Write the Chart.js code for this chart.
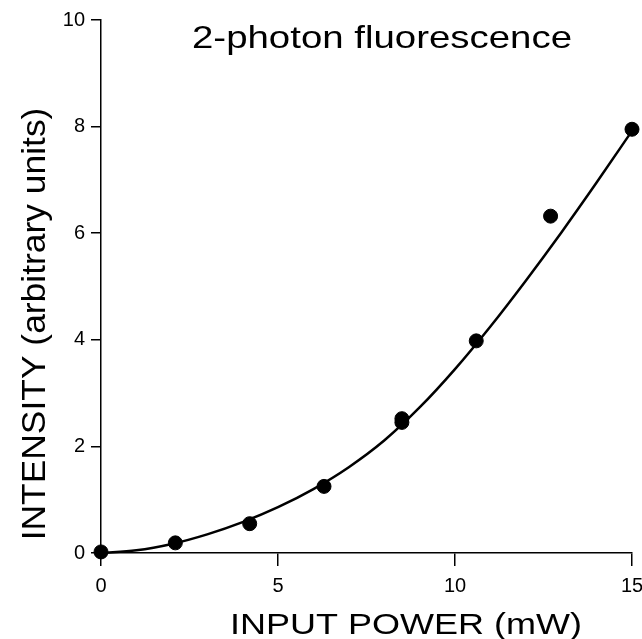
<!DOCTYPE html>
<html>
<head>
<meta charset="utf-8">
<script src="https://cdn.jsdelivr.net/npm/chart.js@4.4.0/dist/chart.umd.min.js"></script>
<style>
html, body { margin: 0; padding: 0; background: #fff; }
#wrap { width: 642px; height: 639px; }
</style>
</head>
<body>
<div id="wrap"><canvas id="myChart"></canvas></div>
<script>
// measured points (input power in mW, intensity in arbitrary units)
const powerMeasured = [0, 2.1, 4.2, 6.3, 8.5, 8.5, 10.6, 12.7, 15];
const intensityMeasured = [0.02, 0.19, 0.55, 1.25, 2.45, 2.52, 3.98, 6.32, 7.95];

// fitted curve
const powerFit = [0, 1, 2, 3, 4, 5, 6, 7, 8, 9, 10, 11, 12, 13, 14, 15];
const intensityFit = [0, 0.05, 0.17, 0.35, 0.58, 0.86, 1.2, 1.61, 2.11, 2.73, 3.45, 4.25, 5.11, 6.01, 6.95, 7.92];

const xTicks = [0, 5, 10, 15];
const yTicks = [0, 2, 4, 6, 8, 10];

const FONT = '"Liberation Sans", Arial, Helvetica, sans-serif';

const titles = {
    id: 'titles',
    afterDraw(chart) {
        const c = chart.ctx;
        const a = chart.chartArea;
        c.save();
        c.fillStyle = '#000';
        c.textAlign = 'center';
        c.textBaseline = 'alphabetic';

        c.font = '32px ' + FONT;
        c.save();
        c.translate(a.left + 281, a.top + 28);
        c.scale(1.2, 1);
        c.fillText('2-photon fluorescence', 0, 0);
        c.restore();

        c.font = '30px ' + FONT;
        c.save();
        c.translate(a.left + 305, 634);
        c.scale(1.2, 1);
        c.fillText('INPUT POWER (mW)', 0, 0);
        c.restore();

        c.save();
        c.translate(45, a.top + 304);
        c.rotate(-Math.PI / 2);
        c.scale(1.18, 1.1);
        c.fillText('INTENSITY (arbitrary units)', 0, 0);
        c.restore();

        c.restore();
    }
};

const ctx = document.getElementById('myChart').getContext('2d');

const data = {
    datasets: [{
        label: 'fit',
        data: powerFit.map((x, i) => ({ x: x, y: intensityFit[i] })),
        showLine: true,
        borderColor: '#000',
        borderWidth: 2.5,
        pointRadius: 0,
        cubicInterpolationMode: 'monotone',
        clip: false
    }, {
        label: 'measured',
        data: powerMeasured.map((x, i) => ({ x: x, y: intensityMeasured[i] })),
        showLine: false,
        backgroundColor: '#000',
        borderColor: '#000',
        pointRadius: 7,
        pointHoverRadius: 7,
        clip: false
    }]
};

const config = {
    type: 'scatter',
    data: data,
    plugins: [titles],
    options: {
        responsive: true,
        maintainAspectRatio: false,
        animation: false,
        layout: { padding: { left: 0, right: 10, top: 20, bottom: 0 } },
        scales: {
            x: {
                type: 'linear',
                min: 0,
                max: 15,
                afterBuildTicks: (s) => { s.ticks = xTicks.map(v => ({ value: v })); },
                afterFit: (s) => { s.height = 86; s.paddingLeft = 0; s.paddingRight = 0; },
                grid: { drawOnChartArea: false, color: '#000', lineWidth: 1.5, tickLength: 13 },
                border: { color: '#000', width: 1.5 },
                ticks: { color: '#000', padding: 8, maxRotation: 0, font: { family: FONT, size: 20 } }
            },
            y: {
                type: 'linear',
                min: 0,
                max: 10,
                afterBuildTicks: (s) => { s.ticks = yTicks.map(v => ({ value: v })); },
                afterFit: (s) => { s.width = 101; s.paddingTop = 0; s.paddingBottom = 0; },
                grid: { drawOnChartArea: false, color: '#000', lineWidth: 1.5, tickLength: 10 },
                border: { color: '#000', width: 1.5 },
                ticks: { color: '#000', padding: 6, font: { family: FONT, size: 20 } }
            }
        },
        plugins: {
            legend: { display: false },
            tooltip: { enabled: false }
        }
    }
};

const myChart = new Chart(ctx, config);
</script>
</body>
</html>
